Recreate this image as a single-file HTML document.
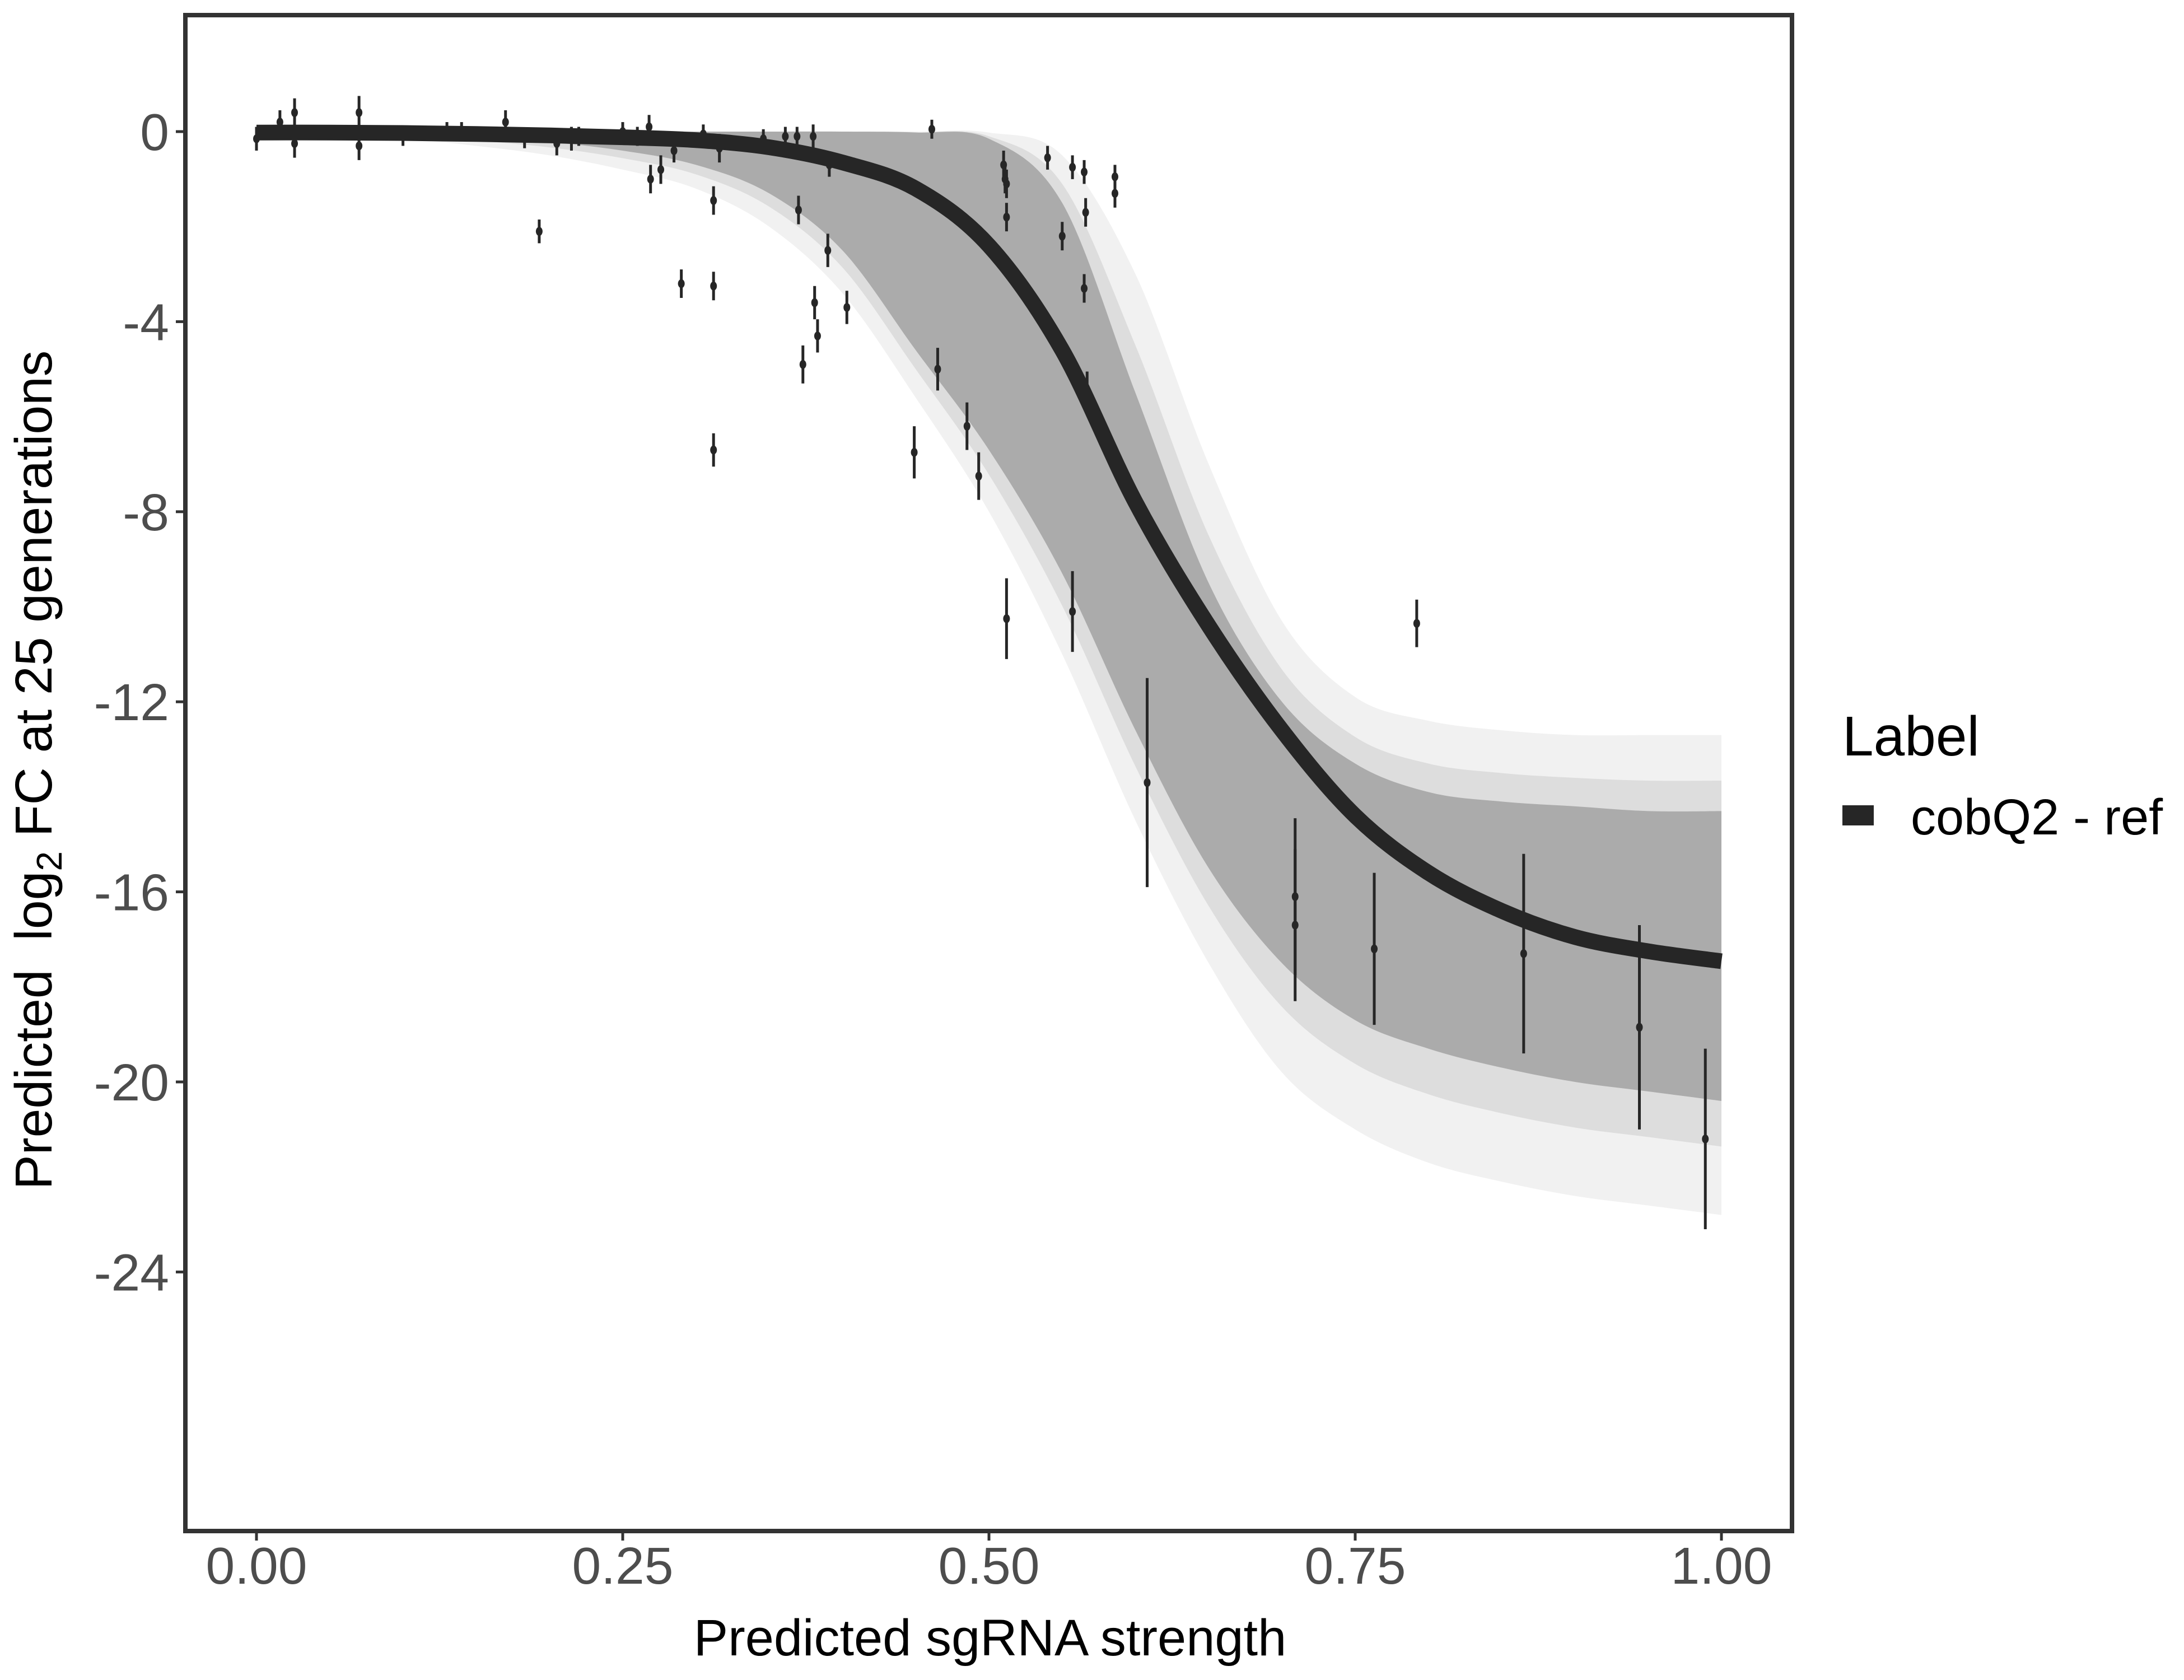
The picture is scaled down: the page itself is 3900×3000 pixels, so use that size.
<!DOCTYPE html>
<html><head><meta charset="utf-8"><style>
html,body{margin:0;padding:0;background:#fff;}
svg{display:block;font-family:"Liberation Sans",Arial,sans-serif;}
</style></head><body>
<svg id="chart" width="3900" height="3000" viewBox="0 0 3900 3000" xmlns="http://www.w3.org/2000/svg">
<rect x="0" y="0" width="3900" height="3000" fill="#fff"/>
<g id="bands"></g>
<g id="points"></g>
<g id="meanline"></g>
<rect x="331" y="27" width="2869" height="2707" fill="none" stroke="#333" stroke-width="8"/>
<g id="xaxis"></g>
<g id="yaxis"></g>
<text x="1768" y="2956" font-size="92" text-anchor="middle" fill="#000">Predicted sgRNA strength</text>
<text transform="translate(92,1375) rotate(-90)" font-size="93" text-anchor="middle" fill="#000">Predicted&#160;&#160;log<tspan font-size="64" dy="18">2</tspan><tspan dy="-18"> FC at 25 generations</tspan></text>
<g>
<text x="3290" y="1349" font-size="100" fill="#000">Label</text>
<rect x="3290" y="1438" width="56" height="36" fill="#262626"/>
<text x="3412" y="1490" font-size="90" fill="#000">cobQ2 - ref</text>
</g>
</svg>
<script>
const gridX = [0,0.05,0.1,0.15,0.2,0.25,0.3,0.35,0.4,0.45,0.5,0.55,0.6,0.65,0.7,0.75,0.8,0.85,0.9,0.95,1.0];
const meanY = [-0.02,-0.02,-0.03,-0.05,-0.08,-0.12,-0.18,-0.33,-0.65,-1.2,-2.4,-4.6,-7.8,-10.4,-12.6,-14.4,-15.6,-16.4,-16.95,-17.25,-17.46];
const innerUpper = [0,0,0,0,0,0,0,0,0,-0.02,-0.15,-1.5,-5.5,-9.5,-12.0,-13.3,-13.9,-14.1,-14.2,-14.3,-14.3];
const innerLower = [-0.02,-0.03,-0.06,-0.12,-0.22,-0.4,-0.7,-1.3,-2.5,-4.6,-6.7,-9.3,-12.6,-15.5,-17.5,-18.7,-19.3,-19.7,-20.0,-20.2,-20.4];
const outerUpper = [0,0,0,0,0,0,0,0,0,0,-0.02,-0.5,-3.0,-7.0,-10.3,-11.9,-12.4,-12.6,-12.7,-12.7,-12.7];
const outerLower = [-0.05,-0.08,-0.15,-0.3,-0.5,-0.8,-1.2,-2.0,-3.4,-5.6,-8.0,-11.0,-14.5,-17.5,-19.8,-21.0,-21.7,-22.1,-22.4,-22.6,-22.8];
const ptX = [0,0.016,0.026,0.026,0.07,0.07,0.1,0.13,0.14,0.17,0.183,0.193,0.205,0.215,0.22,0.25,0.26,0.268,0.269,0.276,0.285,0.29,0.305,0.312,0.312,0.312,0.316,0.346,0.361,0.369,0.37,0.373,0.38,0.381,0.383,0.39,0.391,0.403,0.449,0.461,0.465,0.485,0.493,0.51,0.511,0.512,0.512,0.512,0.54,0.55,0.557,0.557,0.565,0.565,0.566,0.567,0.586,0.586,0.608,0.709,0.709,0.763,0.792,0.865,0.944,0.989];
const ptY = [-0.15,0.2,0.4,-0.25,0.4,-0.3,-0.1,0,0,0.2,-0.15,-2.1,-0.25,-0.15,-0.1,0,-0.1,0.1,-1.0,-0.8,-0.4,-3.2,-0.05,-1.45,-3.25,-6.7,-0.35,-0.15,-0.1,-0.1,-1.65,-4.9,-0.1,-3.6,-4.3,-2.5,-0.7,-3.7,-6.75,0.05,-5.0,-6.2,-7.25,-0.7,-1.0,-1.1,-1.8,-10.25,-0.55,-2.2,-0.75,-10.1,-0.85,-3.3,-1.7,-5.45,-0.95,-1.3,-13.7,-16.1,-16.7,-17.2,-10.35,-17.3,-18.85,-21.2];
const ptErr = [0.25,0.25,0.3,0.3,0.35,0.3,0.2,0.2,0.2,0.25,0.2,0.25,0.25,0.25,0.2,0.2,0.2,0.25,0.3,0.3,0.25,0.3,0.2,0.3,0.3,0.35,0.3,0.2,0.2,0.2,0.3,0.4,0.25,0.35,0.35,0.35,0.25,0.35,0.55,0.2,0.45,0.5,0.5,0.3,0.3,0.3,0.3,0.85,0.25,0.3,0.25,0.85,0.25,0.3,0.3,0.4,0.25,0.3,2.2,1.65,1.6,1.6,0.5,2.1,2.15,1.9];
const xTicks = [0,0.25,0.5,0.75,1.0];
const xTickLabels = ["0.00","0.25","0.50","0.75","1.00"];
const yTicks = [0,-4,-8,-12,-16,-20,-24];
const yTickLabels = ["0","-4","-8","-12","-16","-20","-24"];

const NS = "http://www.w3.org/2000/svg";
function sx(v){ return 458 + v*2616; }
function sy(v){ return 235 - v*84.85; }
function mk(tag, attrs, parent){ const e=document.createElementNS(NS,tag); for(const k in attrs) e.setAttribute(k,attrs[k]); parent.appendChild(e); return e; }
function smooth(xs, ys){
  const P = xs.map((x,i)=>[sx(x),sy(ys[i])]);
  let d = "M"+P[0][0]+","+P[0][1];
  for(let i=0;i<P.length-1;i++){
    const p0=P[Math.max(i-1,0)],p1=P[i],p2=P[i+1],p3=P[Math.min(i+2,P.length-1)];
    const c1=[p1[0]+(p2[0]-p0[0])/6,p1[1]+(p2[1]-p0[1])/6];
    const c2=[p2[0]-(p3[0]-p1[0])/6,p2[1]-(p3[1]-p1[1])/6];
    d+=" C"+c1[0]+","+c1[1]+" "+c2[0]+","+c2[1]+" "+p2[0]+","+p2[1];
  }
  return d;
}
function band(up, lo){
  const a = smooth(gridX, up);
  const rx = gridX.slice().reverse(), rl = lo.slice().reverse();
  const b = smooth(rx, rl).replace(/^M/,"L");
  return a+" "+b+" Z";
}
const bands = document.getElementById("bands");
const ob = mk("path",{d:band(outerUpper,outerLower),fill:"#f1f1f1"},bands);


const mb = mk("path",{d:band(innerUpper.map((u,i)=>u*0.6+outerUpper[i]*0.4),innerLower.map((l,i)=>l*0.6+outerLower[i]*0.4)),fill:"#dddddd"},bands);


const ib = mk("path",{d:band(innerUpper,innerLower),fill:"#ababab"},bands);



const pts = document.getElementById("points");
for(let i=0;i<ptX.length;i++){
  const g = mk("g",{},pts);
  
  
  mk("line",{x1:sx(ptX[i]),x2:sx(ptX[i]),y1:sy(ptY[i]+ptErr[i]),y2:sy(ptY[i]-ptErr[i]),stroke:"#262626","stroke-width":5},g);
  mk("ellipse",{cx:sx(ptX[i]),cy:sy(ptY[i]),rx:6,ry:8,fill:"#262626"},g);
}
const ml = mk("path",{d:smooth(gridX,meanY),fill:"none",stroke:"#262626","stroke-width":28},document.getElementById("meanline"));



const xa = document.getElementById("xaxis");
xTicks.forEach((t,i)=>{
  const tk = mk("line",{x1:sx(t),x2:sx(t),y1:2738,y2:2751,stroke:"#333","stroke-width":5},xa);
  
  
  const tx = mk("text",{x:sx(t),y:2828,"font-size":93,"text-anchor":"middle",fill:"#4d4d4d"},xa);
  tx.textContent = xTickLabels[i];
  
  
});
const ya = document.getElementById("yaxis");
yTicks.forEach((t,i)=>{
  const tk = mk("line",{x1:314,x2:327,y1:sy(t),y2:sy(t),stroke:"#333","stroke-width":5},ya);
  
  
  const tx = mk("text",{x:302,y:sy(t)+33,"font-size":93,"text-anchor":"end",fill:"#4d4d4d"},ya);
  tx.textContent = yTickLabels[i];
  
  
});
</script>
</body></html>
